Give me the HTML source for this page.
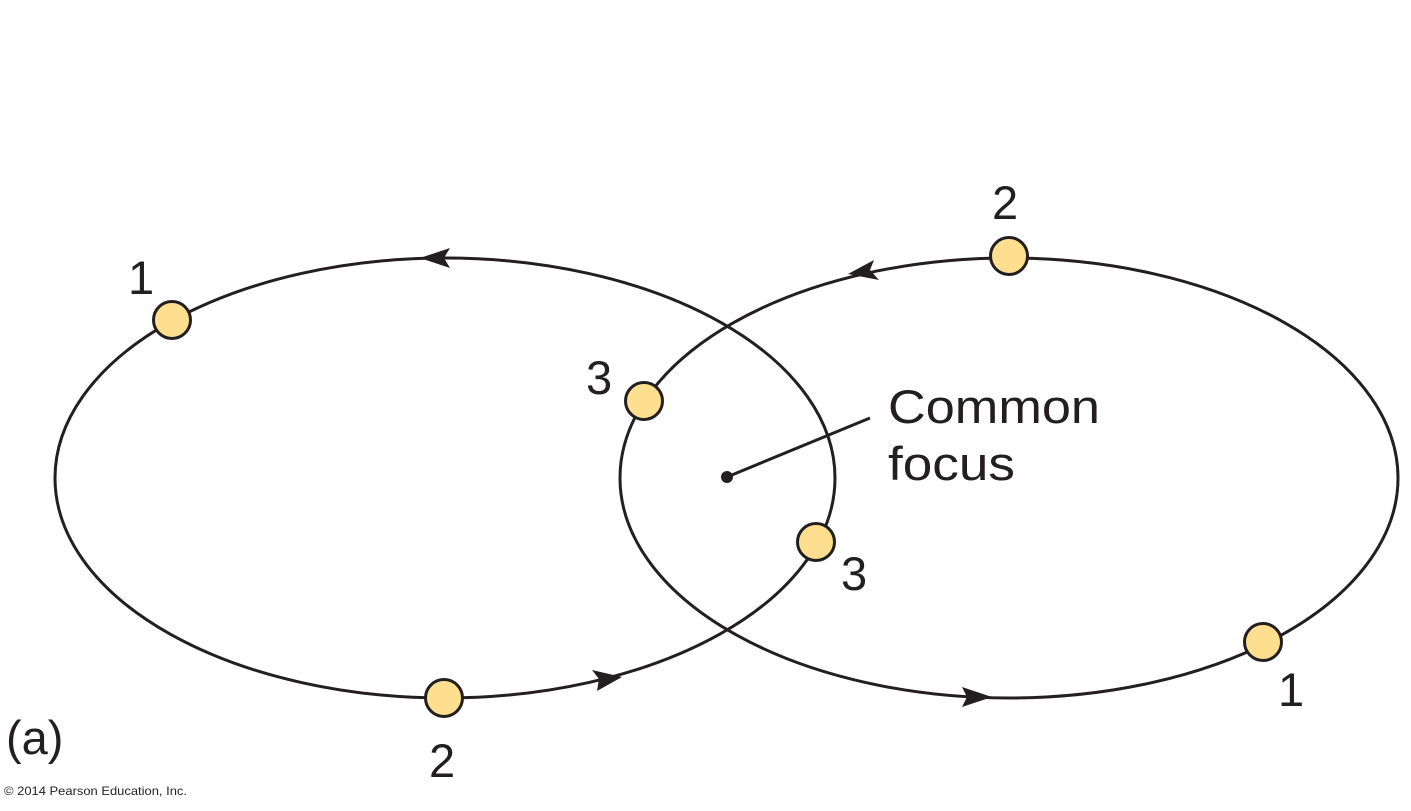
<!DOCTYPE html>
<html><head><meta charset="utf-8"><style>
html,body{margin:0;padding:0;background:#fff;}
svg{display:block;}
text{font-family:"Liberation Sans",Arial,sans-serif;fill:#231f20;}
</style></head><body>
<svg width="1411" height="811" viewBox="0 0 1411 811" xmlns="http://www.w3.org/2000/svg">
<g fill="none" stroke="#231f20" stroke-width="3">
<ellipse cx="445" cy="478" rx="390" ry="220"/>
<ellipse cx="1009" cy="478" rx="389" ry="220"/>
<line x1="727" y1="477" x2="870" y2="418"/>
</g>
<circle cx="727" cy="477" r="6" fill="#231f20"/>
<g fill="#231f20">
<polygon points="420,258 450,248 444,258 450,268"/>
<polygon points="622,677 592,670 599,679 597,691"/>
<polygon points="848,274 874,260 870,270 879,280"/>
<polygon points="992,697 962,687 967,697 962,707"/>
</g>
<g fill="#fddf8f" stroke="#231f20" stroke-width="3">
<circle cx="172" cy="320" r="18.5"/>
<circle cx="444" cy="698" r="18.5"/>
<circle cx="816" cy="542" r="18.5"/>
<circle cx="1263" cy="642" r="18.5"/>
<circle cx="1009" cy="256" r="18.5"/>
<circle cx="644" cy="401" r="18.5"/>
</g>
<g font-size="47">
<text x="128" y="294">1</text>
<text x="429" y="777">2</text>
<text x="841" y="590">3</text>
<text x="586" y="394">3</text>
<text x="992" y="219">2</text>
<text x="1278" y="706">1</text>
<text x="888" y="423" textLength="212" lengthAdjust="spacingAndGlyphs">Common</text>
<text x="888" y="480" textLength="127" lengthAdjust="spacingAndGlyphs">focus</text>
<text x="6" y="754">(a)</text>
</g>
<text x="4" y="795" font-size="12" textLength="183" lengthAdjust="spacingAndGlyphs">© 2014 Pearson Education, Inc.</text>
</svg>
</body></html>
